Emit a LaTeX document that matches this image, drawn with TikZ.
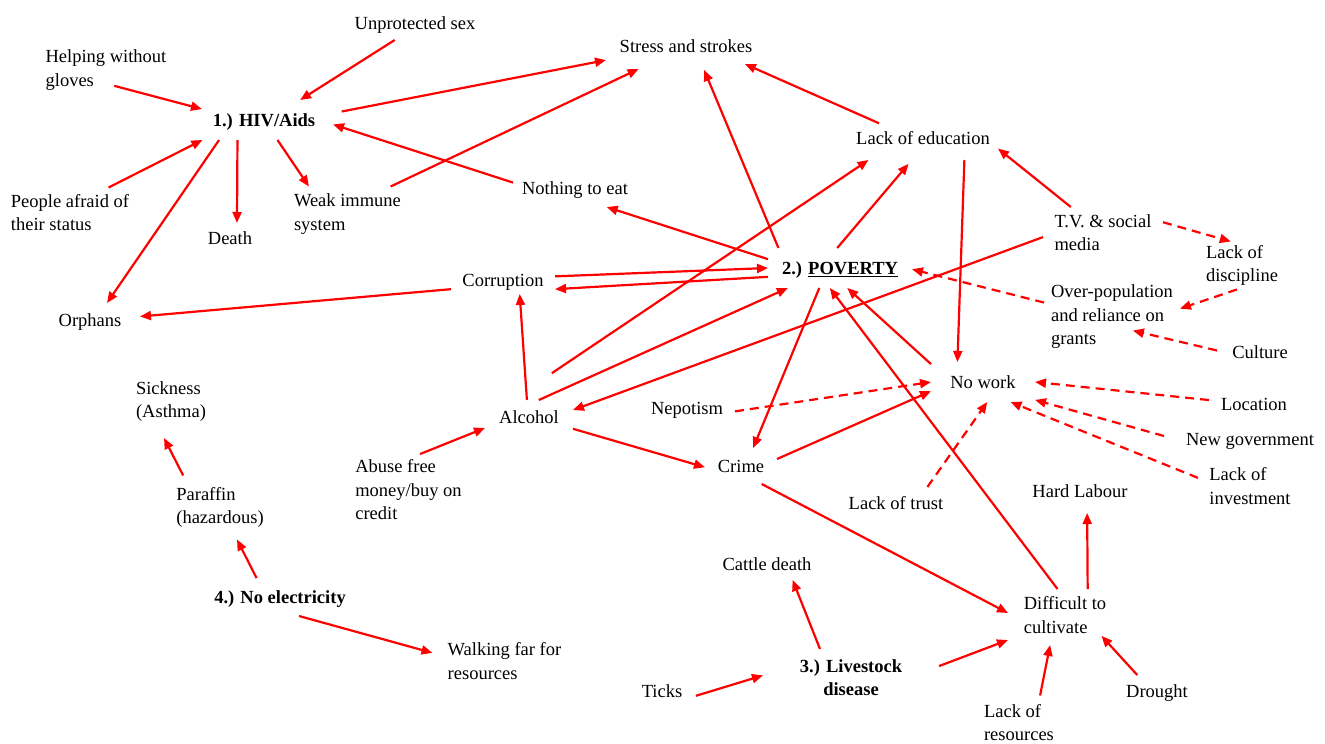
\documentclass[tikz,border=0pt]{standalone}
\usepackage{fontspec}
\setmainfont{Liberation Serif}
\usetikzlibrary{arrows.meta}
% invisible rule that centres each label on its lower-case letters
\newcommand{\labelstrut}{\vrule width 0pt height 17.5pt depth 4.5pt\relax}
\begin{document}
\begin{tikzpicture}[x=1pt,y=-1pt,
  lbl/.style={inner sep=0pt, outer sep=0pt, align=left,
    font=\fontsize{18.5}{23.5}\selectfont,
    execute at begin node=\labelstrut, execute at end node=\labelstrut},
  hub/.style={lbl, font=\fontsize{18.5}{23.5}\selectfont\bfseries},
  conn/.style={draw=red, line width=2.2pt, -{Triangle[length=11pt,width=9pt]}},
  dconn/.style={conn, dash pattern=on 9pt off 6pt}]

\useasboundingbox[fill=white] (0,0) rectangle (1325,744);

% ---- causes and effects ----
\node[lbl, minimum width=124pt, minimum height=47pt] (help) at (106,70.5) {Helping without\\gloves};
\node[lbl, minimum width=132pt, minimum height=34pt] (unprot) at (415,23) {Unprotected sex};
\node[lbl, minimum width=160pt, minimum height=36pt] (stress) at (686,46) {Stress and strokes};
\node[hub, minimum width=124pt, minimum height=40pt] (hiv) at (264,120) {1.) HIV/Aids};
\node[lbl, minimum width=134pt, minimum height=54pt] (afraid) at (70,214.5) {People afraid of\\their status};
\node[lbl, minimum width=70pt, minimum height=30pt] (death) at (230,238) {Death};
\node[lbl, minimum width=124pt, minimum height=56pt] (weak) at (347.5,214.5) {Weak immune\\system};
\node[lbl, minimum width=124pt, minimum height=38pt] (eat) at (575,188) {Nothing to eat};
\node[lbl, minimum width=150pt, minimum height=44pt] (edu) at (923,138) {Lack of education};
\node[lbl, minimum width=120pt, minimum height=56pt] (tv) at (1103,235) {T.V. \& social\\media};
\node[lbl, minimum width=92pt, minimum height=48pt] (disc) at (1242,265.5) {Lack of\\discipline};
\node[lbl, minimum width=136pt, minimum height=70pt] (over) at (1112,317) {Over-population\\and reliance on\\grants};
\node[lbl, minimum width=86pt, minimum height=30pt] (culture) at (1260,352) {Culture};
\node[lbl, minimum width=104pt, minimum height=28pt] (corr) at (503,280) {Corruption};
\node[hub, minimum width=144pt, minimum height=40pt] (pov) at (840,268) {2.) \underline{POVERTY}};
\node[lbl, minimum width=100pt, minimum height=34pt] (orph) at (90,320) {Orphans};
\node[lbl, minimum width=104pt, minimum height=40pt] (nowork) at (983,382) {No work};
\node[lbl, minimum width=90pt, minimum height=30pt] (loc) at (1254,404) {Location};
\node[lbl, minimum width=172pt, minimum height=30pt] (newgov) at (1250,439) {New government};
\node[lbl, minimum width=104pt, minimum height=48pt] (invest) at (1250,488) {Lack of\\investment};
\node[lbl, minimum width=84pt, minimum height=72pt] (sick) at (171,402) {Sickness\\(Asthma)};
\node[lbl, minimum width=88pt, minimum height=34pt] (alc) at (529,417) {Alcohol};
\node[lbl, minimum width=96pt, minimum height=30pt] (nep) at (687,408) {Nepotism};
\node[lbl, minimum width=72pt, minimum height=36pt] (crime) at (741,466) {Crime};
\node[lbl, minimum width=112pt, minimum height=76pt] (abuse) at (408.5,492) {Abuse free\\money/buy on\\credit};
\node[lbl, minimum width=100pt, minimum height=64pt] (paraf) at (220,507.5) {Paraffin\\(hazardous)};
\node[lbl, minimum width=108pt, minimum height=32pt] (trust) at (896,503) {Lack of trust};
\node[lbl, minimum width=110pt, minimum height=44pt] (hard) at (1080,491) {Hard Labour};
\node[lbl, minimum width=104pt, minimum height=32pt] (cattle) at (767,564) {Cattle death};
\node[hub, minimum width=144pt, minimum height=38pt] (elec) at (280,597) {4.) No electricity};
\node[lbl, minimum width=114pt, minimum height=56pt] (diff) at (1065,617) {Difficult to\\cultivate};
\node[lbl, minimum width=144pt, minimum height=48pt] (walk) at (504.5,663) {Walking far for\\resources};
\node[lbl, minimum width=68pt, minimum height=30pt] (ticks) at (662,691) {Ticks};
\node[hub, align=center, minimum width=176pt, minimum height=62pt] (live) at (851,680) {3.) Livestock\\disease};
\node[lbl, minimum width=84pt, minimum height=58pt] (lres) at (1019,724.5) {Lack of\\resources};
\node[lbl, minimum width=80pt, minimum height=32pt] (drought) at (1157,691) {Drought};

% ---- HIV/Aids cluster ----
\draw[conn, shorten <=-32pt] (help.-31.5) -- (hiv.170);
\draw[conn] (unprot.-140) -- (hiv.29);
\draw[conn, shorten <=16pt] (hiv.5.4) -- (stress.-170);
\draw[conn, shorten >=7.4pt] (eat.175.7) -- (hiv.-2.5);
\draw[conn] (afraid.35.3) -- (hiv.-162);
\draw[conn] (hiv.-156) -- (orph.45);
\draw[conn] (hiv.-143.5) -- (death.65);
\draw[conn] (hiv.-56.4) -- (weak.144);
\draw[conn, shorten >=11.6pt] (weak.33) -- (stress.-154.9);

% ---- poverty cluster ----
\draw[conn, shorten <=-18pt] (edu.160) -- (stress.-17.7);
\draw[conn, shorten >=6.5pt] (pov.162.6) -- (stress.-49);
\draw[conn] (pov.173.9) -- (eat.-31.5);
\draw[conn, shorten <=48pt] (alc.135.3) -- (edu.-158);
\draw[conn, shorten >=5pt] (pov.98.5) -- (edu.-117.4);
\draw[conn] (tv.139.7) -- (edu.-8.4);
\draw[conn] (edu.-28.8) -- (nowork.142);
\draw[conn] (tv.-178.2) -- (alc.9.7);
\draw[dconn] (tv.12.4) -- (disc.115);
\draw[dconn] (disc.-102.3) -- (over.7.1);
\draw[dconn, shorten >=-48.5pt] (culture.178.7) -- (over.-20.2);
\draw[dconn] (over.168.7) -- (pov.-1.7);
\draw[conn] (corr.4.2) -- (pov.180);
\draw[conn] (pov.-173.3) -- (corr.-10.4);
\draw[conn] (corr.-170.7) -- (orph.4.6);
\draw[conn] (alc.97) -- (corr.-40.6);
\draw[conn] (alc.60.6) -- (pov.-159.2);
\draw[conn] (pov.-136.3) -- (crime.56.3);
\draw[conn] (alc.-15) -- (crime.-178.3);
\draw[conn] (crime.11) -- (nowork.-170.5);
\draw[conn] (nowork.161.2) -- (pov.-70);
\draw[conn] (diff.105.4) -- (pov.-117.8);
\draw[conn] (crime.-41.2) -- (diff.176);
\draw[conn] (abuse.73) -- (alc.-166);

% ---- no work ----
\draw[dconn] (nep.-4.8) -- (nowork.180);
\draw[dconn] (loc.175) -- (nowork.0);
\draw[dconn] (newgov.178.7) -- (nowork.-19.2);
\draw[dconn] (invest.169.5) -- (nowork.-36.9);
\draw[dconn] (trust.27.3) -- (nowork.-78.7);

% ---- livestock and cultivation ----
\draw[conn] (diff.51.8) -- (hard.-72.3);
\draw[conn] (live.135.9) -- (cattle.-32.7);
\draw[conn] (ticks.-8.4) -- (live.177.4);
\draw[conn] (live.9.5) -- (diff.-158);
\draw[conn] (lres.54.6) -- (diff.-118.3);
\draw[conn, shorten >=-12.4pt] (drought.141.3) -- (diff.-32.8);

% ---- no electricity ----
\draw[conn] (paraf.139.7) -- (sick.-101);
\draw[conn] (elec.141.6) -- (paraf.-62.4);
\draw[conn] (elec.-45) -- (walk.172);
\end{tikzpicture}
\end{document}
